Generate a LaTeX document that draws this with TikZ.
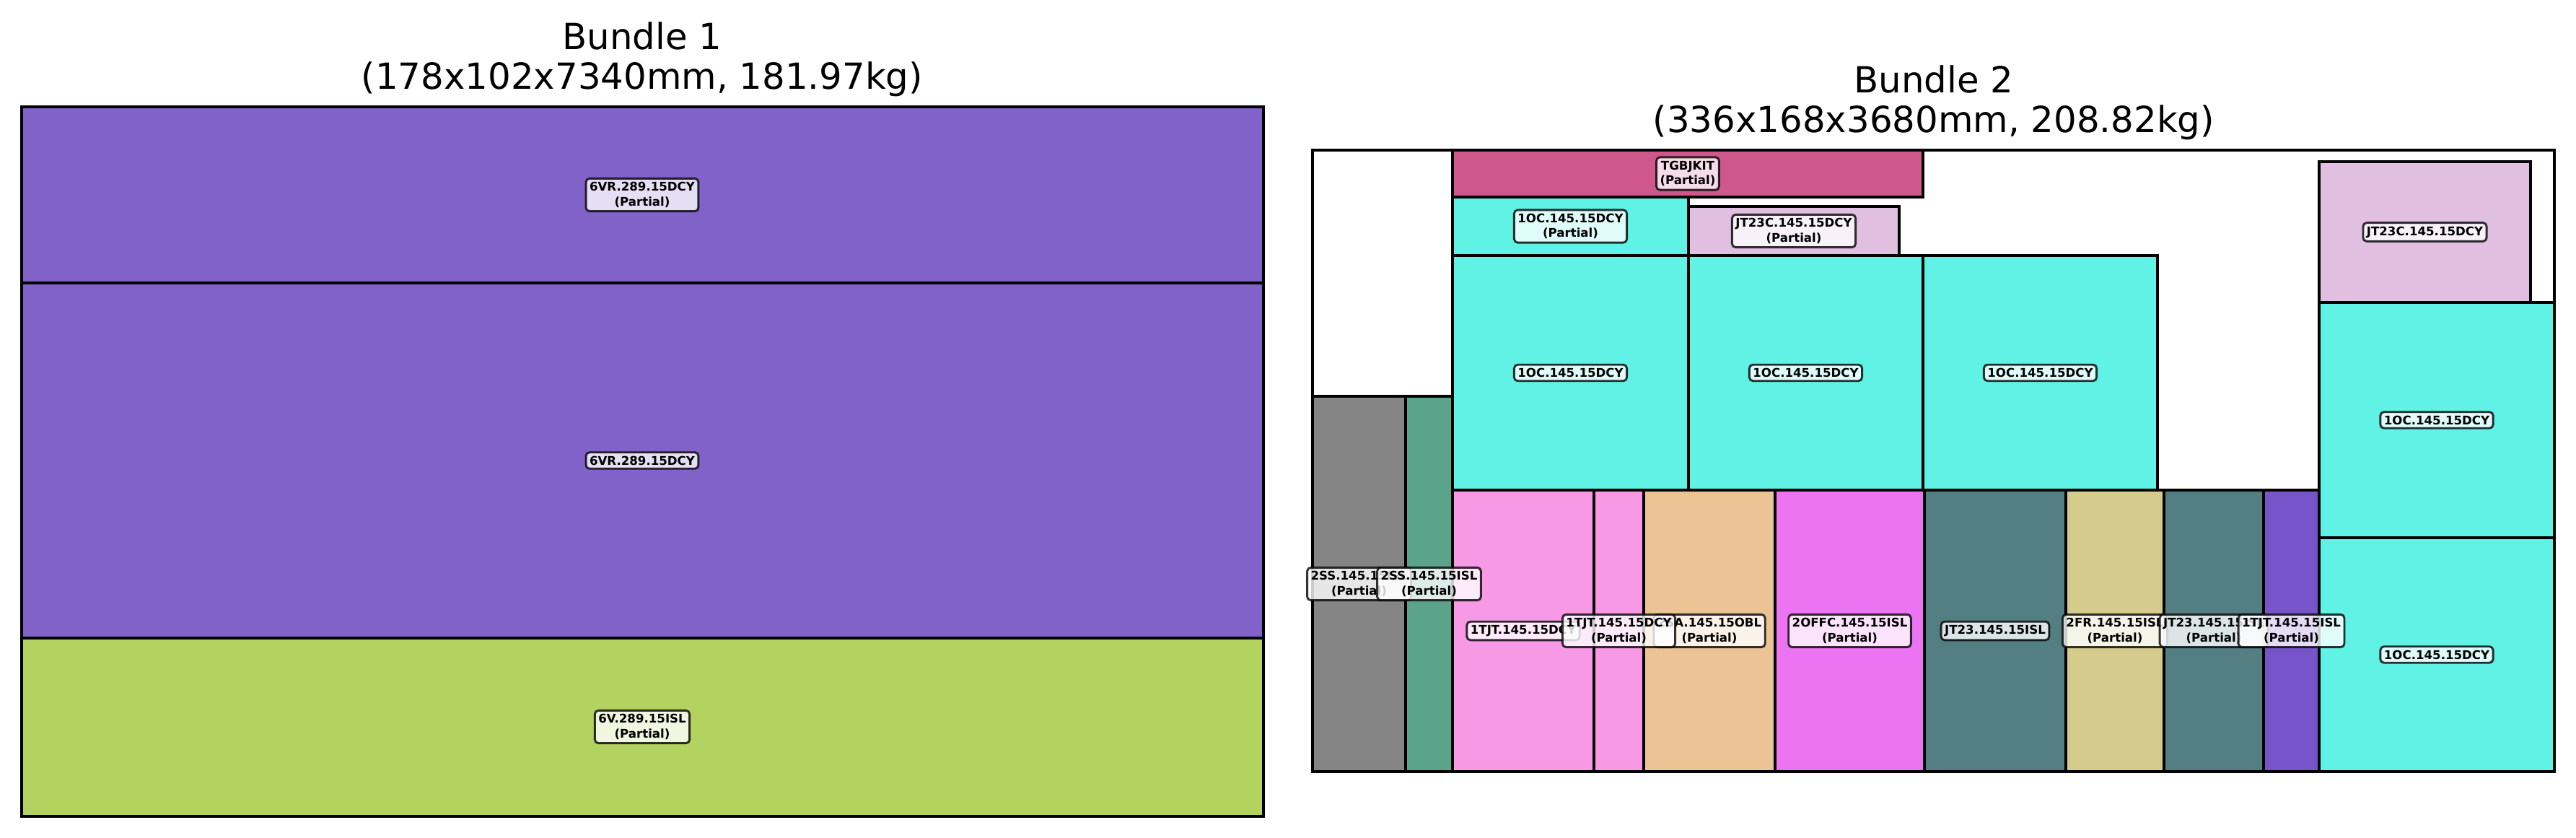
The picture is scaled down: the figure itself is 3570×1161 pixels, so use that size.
\documentclass[tikz,border=0pt]{standalone}
\usepackage{fontspec}
\setmainfont{DejaVu Sans}

\definecolor{vrpurple}{RGB}{129,98,200}
\definecolor{vgreen}{RGB}{180,210,96}
\definecolor{kitrose}{RGB}{207,87,140}
\definecolor{occyan}{RGB}{97,242,230}
\definecolor{jtlilac}{RGB}{224,191,224}
\definecolor{ssgray}{RGB}{133,133,133}
\definecolor{sssea}{RGB}{92,163,140}
\definecolor{tjtpink}{RGB}{248,153,230}
\definecolor{oblsand}{RGB}{236,195,148}
\definecolor{offmagenta}{RGB}{236,115,242}
\definecolor{jtslate}{RGB}{83,126,130}
\definecolor{frkhaki}{RGB}{212,203,140}
\definecolor{islviolet}{RGB}{120,84,202}

\tikzset{
  item/.style = {draw = black, line width = 0.9pt},
  frame/.style = {draw = black, line width = 0.9pt},
  tag/.style = {draw = black, draw opacity = 0.8, fill = white, fill opacity = 0.8,
    text opacity = 1, rounded corners = 1.2pt, inner sep = 1.2pt, line width = 0.7pt,
    align = center, font = {\fontsize{4}{5}\selectfont\bfseries}},
  title/.style = {anchor = base, font = {\fontsize{12}{14}\selectfont}}
}

\begin{document}
\begin{tikzpicture}[x = 0.24bp, y = -0.24bp]
        \useasboundingbox (0,0) rectangle (3570,1161);
        \fill[white] (0,0) rectangle (3570,1161);

        % Bundle 1
        \foreach \ya/\yb/\col in {148/392/vrpurple,392/884/vrpurple,884/1131/vgreen}
            \draw[item, fill = \col] (30,\ya) rectangle (1751,\yb);
        \draw[frame] (30,148) rectangle (1751,1131);

        \node[title] (t1a) at (890,68) {Bundle 1};
        \node[title] (t1b) at (890,123) {(178x102x7340mm, 181.97kg)};

        \node[tag] (b1top) at (890,270) {6VR.289.15DCY\\(Partial)};
        \node[tag] (b1mid) at (890,638) {6VR.289.15DCY};
        \node[tag] (b1bot) at (890,1007) {6V.289.15ISL\\(Partial)};

        % Bundle 2
        \foreach \xa/\ya/\xb/\yb/\col in {1819/549/1948/1069/ssgray,1948/549/2013/1069/sssea,
            2013/208/2665/273/kitrose,2013/273/2340/354/occyan,2340/286/2632/354/jtlilac,
            2013/354/2340/679/occyan,2340/354/2665/679/occyan,2665/354/2990/679/occyan,
            2013/679/2209/1069/tjtpink,2209/679/2278/1069/tjtpink,2278/679/2460/1069/oblsand,
            2460/679/2667/1069/offmagenta,2667/679/2863/1069/jtslate,2863/679/2999/1069/frkhaki,
            2999/679/3137/1069/jtslate,3137/679/3214/1069/islviolet,
            3214/224/3507/419/jtlilac,3214/419/3540/745/occyan,3214/745/3540/1069/occyan}
            \draw[item, fill = \col] (\xa,\ya) rectangle (\xb,\yb);
        \draw[frame] (1819,208) rectangle (3540,1069);

        \node[title] (t2a) at (2680,128) {Bundle 2};
        \node[title] (t2b) at (2680,183) {(336x168x3680mm, 208.82kg)};

        \node[tag] (ssa) at (1883.5,809) {2SS.145.15ISL\\(Partial)};
        \node[tag] (ssb) at (1980.5,809) {2SS.145.15ISL\\(Partial)};
        \node[tag] (kit) at (2339,240.5) {TGBJKIT\\(Partial)};
        \node[tag] (oca) at (2176.5,313.5) {1OC.145.15DCY\\(Partial)};
        \node[tag] (jtca) at (2486,320) {JT23C.145.15DCY\\(Partial)};
        \node[tag] (ocb) at (2176.5,516.5) {1OC.145.15DCY};
        \node[tag] (occ) at (2502.5,516.5) {1OC.145.15DCY};
        \node[tag] (ocd) at (2827.5,516.5) {1OC.145.15DCY};
        \node[tag] (tjta) at (2111,874) {1TJT.145.15DCY};
        \node[tag] (obl) at (2369,874) {2SA.145.15OBL\\(Partial)};
        \node[tag] (tjtb) at (2243.5,874) {1TJT.145.15DCY\\(Partial)};
        \node[tag] (off) at (2563.5,874) {2OFFC.145.15ISL\\(Partial)};
        \node[tag] (jta) at (2765,874) {JT23.145.15ISL};
        \node[tag] (fr) at (2931,874) {2FR.145.15ISL\\(Partial)};
        \node[tag] (jtb) at (3068,874) {JT23.145.15ISL\\(Partial)};
        \node[tag] (tjtc) at (3175.5,874) {1TJT.145.15ISL\\(Partial)};
        \node[tag] (jtcb) at (3360.5,321.5) {JT23C.145.15DCY};
        \node[tag] (oce) at (3377,582) {1OC.145.15DCY};
        \node[tag] (ocf) at (3377,907) {1OC.145.15DCY};
    \end{tikzpicture}
\end{document}
